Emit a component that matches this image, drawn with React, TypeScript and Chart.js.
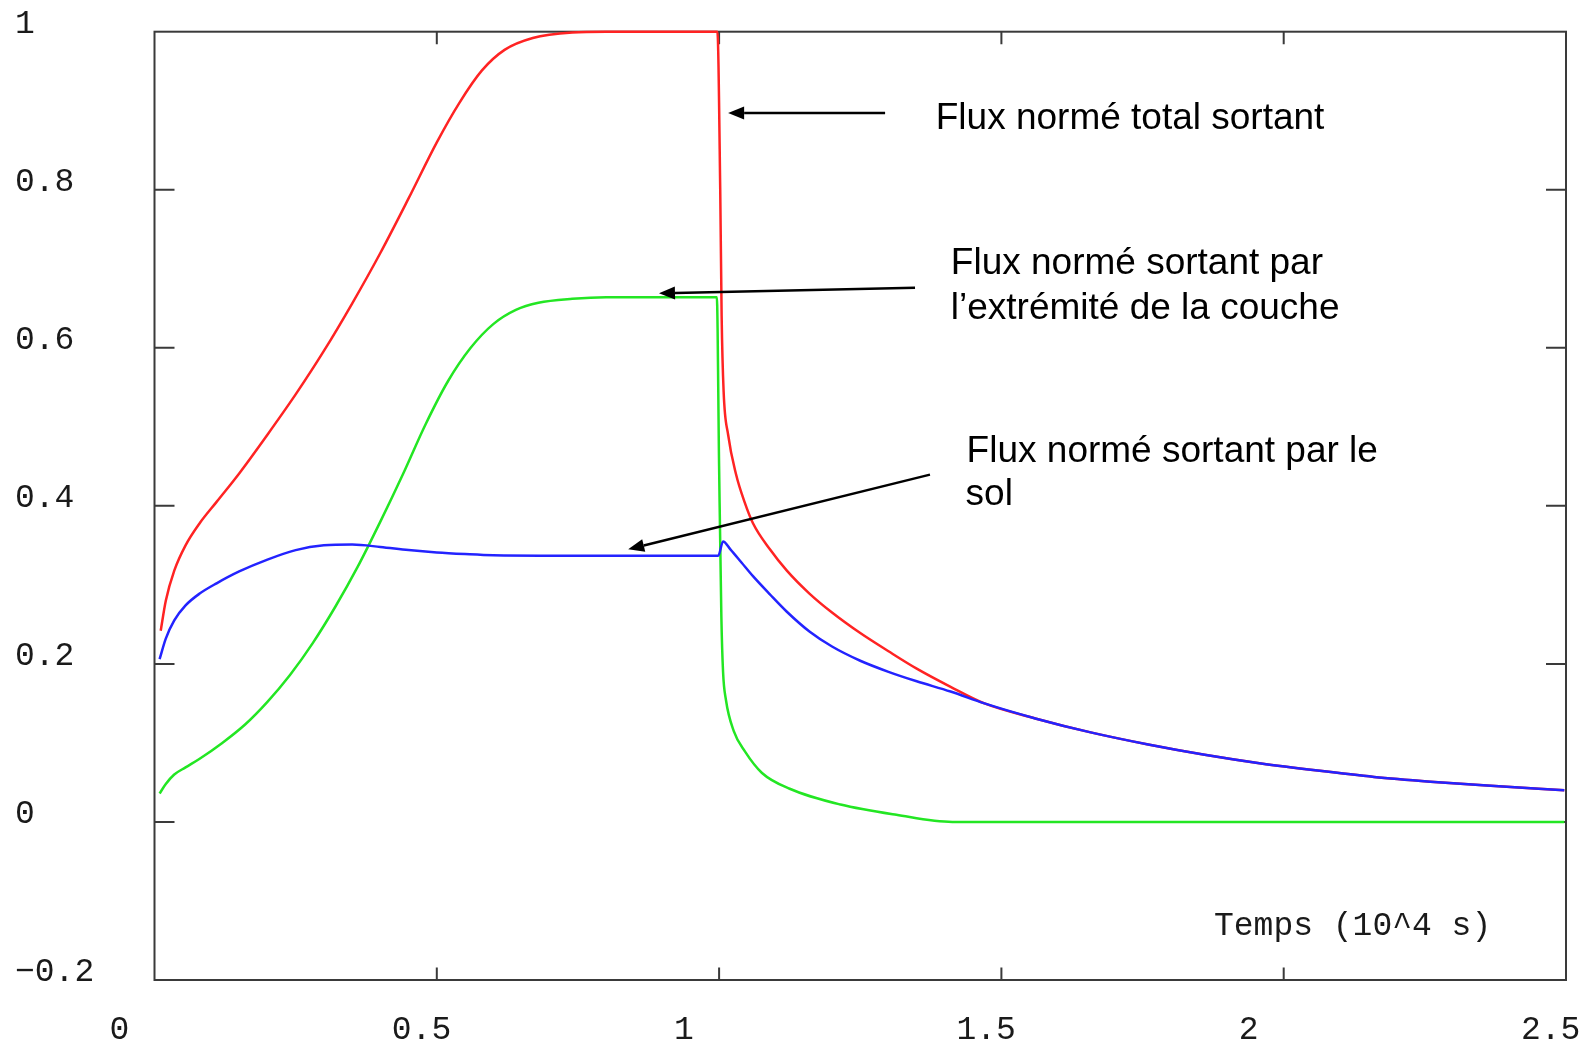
import { useEffect, useRef } from "react";
import { Chart, registerables } from "chart.js";

Chart.register(...registerables);

// Time axis in units of 10^4 s, normalised flux on the vertical axis
const X_MIN = 0;
const X_MAX = 2.5;
const Y_MIN = -0.2;
const Y_MAX = 1;

const xTickValues = [0, 0.5, 1, 1.5, 2, 2.5];
const xTickLabels = ["0", "0.5", "1", "1.5", "2", "2.5"];
const yTickValues = [1, 0.8, 0.6, 0.4, 0.2, 0, -0.2];
const yTickLabels = ["1", "0.8", "0.6", "0.4", "0.2", "0", "\u22120.2"];
const xAxisTitle = "Temps (10^4 s)";

// Total outgoing normalised flux (red)
const totalX = [0.011, 0.02, 0.035, 0.055, 0.08, 0.11, 0.15, 0.2, 0.25, 0.3, 0.35, 0.4, 0.45, 0.5, 0.54, 0.58, 0.62, 0.67, 0.74, 0.8, 0.9, 0.997, 1.002, 1.0045, 1.008, 1.016, 1.03, 1.045, 1.06, 1.09, 1.12, 1.16, 1.2, 1.25, 1.3, 1.35, 1.41, 1.47, 1.56, 1.66, 1.76, 1.86, 1.96, 2.06, 2.16, 2.26, 2.36, 2.497];
const totalY = [0.242, 0.28, 0.318, 0.35, 0.378, 0.405, 0.441, 0.49, 0.541, 0.596, 0.656, 0.72, 0.789, 0.86, 0.91, 0.951, 0.977, 0.992, 0.999, 1.0, 1.0, 1.0, 0.8, 0.64, 0.545, 0.49, 0.44, 0.405, 0.378, 0.345, 0.318, 0.289, 0.265, 0.239, 0.216, 0.194, 0.171, 0.15, 0.131, 0.113, 0.098, 0.085, 0.074, 0.065, 0.057, 0.051, 0.046, 0.04];

// Flux leaving through the end of the layer (green)
const endX = [0.009, 0.02, 0.035, 0.055, 0.08, 0.12, 0.16, 0.2, 0.24, 0.28, 0.32, 0.36, 0.4, 0.44, 0.48, 0.52, 0.56, 0.6, 0.64, 0.68, 0.74, 0.8, 0.9, 0.996, 1.0, 1.004, 1.007, 1.012, 1.026, 1.046, 1.076, 1.125, 1.215, 1.314, 1.413, 1.6, 1.9, 2.2, 2.497];
const endY = [0.036, 0.048, 0.06, 0.069, 0.08, 0.1, 0.123, 0.152, 0.186, 0.226, 0.272, 0.323, 0.38, 0.44, 0.503, 0.558, 0.6, 0.63, 0.648, 0.657, 0.662, 0.664, 0.664, 0.664, 0.45, 0.26, 0.19, 0.155, 0.115, 0.089, 0.062, 0.042, 0.022, 0.009, 0.0, 0.0, 0.0, 0.0, 0.0];

// Flux leaving through the ground (blue)
const soilX = [0.009, 0.02, 0.035, 0.055, 0.08, 0.11, 0.15, 0.2, 0.25, 0.3, 0.35, 0.4, 0.45, 0.5, 0.55, 0.6, 0.7, 0.85, 0.9986, 1.007, 1.02, 1.04, 1.06, 1.09, 1.12, 1.16, 1.2, 1.25, 1.3, 1.35, 1.41, 1.47, 1.56, 1.66, 1.76, 1.86, 1.96, 2.06, 2.16, 2.26, 2.36, 2.497];
const soilY = [0.206, 0.232, 0.255, 0.274, 0.289, 0.302, 0.317, 0.332, 0.344, 0.35, 0.351, 0.348, 0.344, 0.341, 0.339, 0.3375, 0.337, 0.337, 0.337, 0.355, 0.345, 0.328, 0.311, 0.288, 0.266, 0.241, 0.222, 0.204, 0.19, 0.178, 0.165, 0.15, 0.131, 0.113, 0.098, 0.085, 0.074, 0.065, 0.057, 0.051, 0.046, 0.04];

// Callout texts: lines and their anchor (left, baseline) in data coordinates
const calloutLines = [
  ["Flux normé total sortant"],
  ["Flux normé sortant par", "l\u2019extrémité de la couche"],
  ["Flux normé sortant par le", "sol"],
];
const calloutAnchorX = [1.3837, 1.4104, 1.4384];
const calloutAnchorY = [0.877, 0.693, 0.456];
const calloutLineStep = [0.0, 0.0565, 0.055];

// Arrows: tail -> head in data coordinates
const arrowTailX = [1.294, 1.347, 1.3735];
const arrowTailY = [0.897, 0.676, 0.4395];
const arrowHeadX = [1.016, 0.8935, 0.839];
const arrowHeadY = [0.897, 0.669, 0.345];

const xAxisTitleX = 1.8765;
const xAxisTitleY = -0.1426;

const toPoints = (xs: number[], ys: number[]) => xs.map((x, i) => ({ x, y: ys[i] }));

const TICK_FONT = '33px "Liberation Mono", "Courier New", monospace';
const CALLOUT_FONT = '37px "Liberation Sans", Arial, sans-serif';

const framePlugin = {
  id: "plotFrame",
  beforeDatasetsDraw(chart: any) {
    const { ctx, chartArea: a, scales } = chart;
    const xs = scales.x;
    const ys = scales.y;
    ctx.save();
    ctx.strokeStyle = "#3a3a3a";
    ctx.lineWidth = 2;
    ctx.strokeRect(a.left, a.top, a.right - a.left, a.bottom - a.top);

    // inward tick marks on all four sides
    ctx.beginPath();
    yTickValues.forEach((v) => {
      if (v === Y_MIN || v === Y_MAX) return;
      const py = ys.getPixelForValue(v);
      ctx.moveTo(a.left, py);
      ctx.lineTo(a.left + 20, py);
      ctx.moveTo(a.right, py);
      ctx.lineTo(a.right - 20, py);
    });
    xTickValues.forEach((v) => {
      if (v === X_MIN || v === X_MAX) return;
      const px = xs.getPixelForValue(v);
      ctx.moveTo(px, a.bottom);
      ctx.lineTo(px, a.bottom - 12.5);
      ctx.moveTo(px, a.top);
      ctx.lineTo(px, a.top + 12.5);
    });
    ctx.stroke();

    // tick labels
    ctx.font = TICK_FONT;
    ctx.fillStyle = "#1a1a1a";
    ctx.textAlign = "left";
    ctx.textBaseline = "alphabetic";
    yTickValues.forEach((v, i) => {
      ctx.fillText(yTickLabels[i], 15, ys.getPixelForValue(v) + 1);
    });
    xTickValues.forEach((v, i) => {
      ctx.fillText(xTickLabels[i], xs.getPixelForValue(v) - 45, a.bottom + 59);
    });
    ctx.fillText(xAxisTitle, xs.getPixelForValue(xAxisTitleX), ys.getPixelForValue(xAxisTitleY));
    ctx.restore();
  },
  afterDatasetsDraw(chart: any) {
    const { ctx, scales } = chart;
    const xs = scales.x;
    const ys = scales.y;
    ctx.save();
    ctx.strokeStyle = "#000";
    ctx.fillStyle = "#000";
    ctx.lineWidth = 2.5;
    arrowTailX.forEach((_, i) => {
      const x0 = xs.getPixelForValue(arrowTailX[i]);
      const y0 = ys.getPixelForValue(arrowTailY[i]);
      const x1 = xs.getPixelForValue(arrowHeadX[i]);
      const y1 = ys.getPixelForValue(arrowHeadY[i]);
      const ang = Math.atan2(y1 - y0, x1 - x0);
      const len = 16;
      const half = 6.5;
      const bx = x1 - len * Math.cos(ang);
      const by = y1 - len * Math.sin(ang);
      ctx.beginPath();
      ctx.moveTo(x0, y0);
      ctx.lineTo(bx, by);
      ctx.stroke();
      ctx.beginPath();
      ctx.moveTo(x1, y1);
      ctx.lineTo(bx + half * Math.sin(ang), by - half * Math.cos(ang));
      ctx.lineTo(bx - half * Math.sin(ang), by + half * Math.cos(ang));
      ctx.closePath();
      ctx.fill();
    });

    ctx.font = CALLOUT_FONT;
    ctx.textAlign = "left";
    ctx.textBaseline = "alphabetic";
    calloutLines.forEach((lines, i) => {
      lines.forEach((line, j) => {
        const px = xs.getPixelForValue(calloutAnchorX[i]) - (j > 0 && i === 2 ? 1 : 0);
        const py = ys.getPixelForValue(calloutAnchorY[i] - j * calloutLineStep[i]);
        ctx.fillText(line, px, py);
      });
    });
    ctx.restore();
  },
};

export default function App() {
  const canvasRef = useRef<HTMLCanvasElement | null>(null);

  useEffect(() => {
    const canvas = canvasRef.current;
    if (!canvas) return;
    const common = {
      pointRadius: 0,
      borderWidth: 2.5,
      fill: false,
      cubicInterpolationMode: "monotone" as const,
      clip: 6,
    };
    const chart = new Chart(canvas, {
      type: "line",
      data: {
        datasets: [
          { ...common, label: "sol", data: toPoints(soilX, soilY), borderColor: "rgb(35,35,255)" },
          { ...common, label: "total", data: toPoints(totalX, totalY), borderColor: "rgb(255,35,35)" },
          { ...common, label: "extrémité", data: toPoints(endX, endY), borderColor: "rgb(35,230,35)" },
        ],
      },
      options: {
        responsive: false,
        animation: false,
        parsing: false as any,
        layout: { padding: { left: 154.5, top: 31.7, right: 21, bottom: 66 } },
        scales: {
          x: { type: "linear", min: X_MIN, max: X_MAX, display: false },
          y: { type: "linear", min: Y_MIN, max: Y_MAX, display: false },
        },
        plugins: { legend: { display: false }, tooltip: { enabled: false } },
        events: [],
      },
      plugins: [framePlugin],
    });
    return () => chart.destroy();
  }, []);

  return (
    <div style={{ position: "fixed", left: 0, top: 0, width: 1587, height: 1046, background: "#fff" }}>
      <canvas ref={canvasRef} width={1587} height={1046} style={{ display: "block" }} />
    </div>
  );
}
